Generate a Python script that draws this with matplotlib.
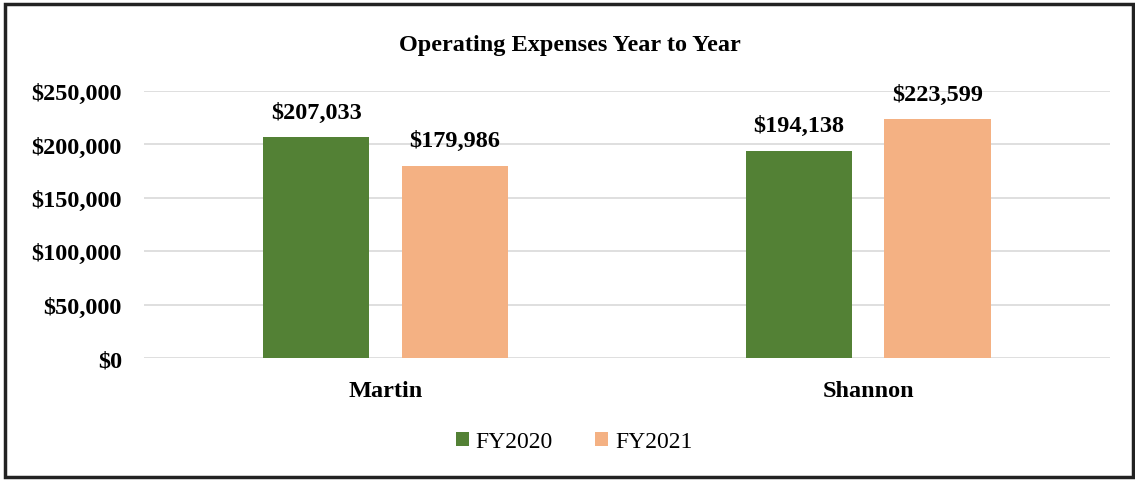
import numpy as np
import matplotlib.pyplot as plt
from matplotlib.patches import Rectangle
from matplotlib.ticker import FuncFormatter

plt.rcParams['font.family'] = ['Liberation Serif', 'DejaVu Serif']

# chart data
people = ['Martin', 'Shannon']
fy2020 = [207033, 194138]
fy2021 = [179986, 223599]
series_names = ['FY2020', 'FY2021']
colors = ['#538135', '#F4B183']

fig = plt.figure(figsize=(11.35, 4.81), dpi=100)
ax = fig.add_axes([0.127, 0.2536, 0.851, 0.555])

x = np.arange(len(people))
w = 0.22
b1 = ax.bar(x - 0.144, fy2020, w, color=colors[0], label=series_names[0], zorder=3)
b2 = ax.bar(x + 0.143, fy2021, w, color=colors[1], label=series_names[1], zorder=3)

#value labels above bars
for bars in (b1, b2):
    for r in bars:
        ax.text(r.get_x() + r.get_width()/2, r.get_height() + 13500,
                '${:,.0f}'.format(r.get_height()), ha='center', va='bottom',
                fontsize=17.5, fontweight='bold')

ax.set_xlim(-0.5, 1.5)
ax.set_ylim(0, 250000)
ax.set_yticks(np.arange(0, 250001, 50000))
ax.yaxis.set_major_formatter(FuncFormatter(lambda v, p: '${:,.0f}'.format(v)))
ax.set_xticks(x)
ax.set_xticklabels(people)
ax.tick_params(axis='y', length=0, labelsize=17.5, pad=16)
ax.tick_params(axis='x', length=0, labelsize=17.5, pad=16)
for lab in ax.get_xticklabels() + ax.get_yticklabels():
    lab.set_fontweight('bold')
ax.grid(axis='y', color='#d9d9d9', linewidth=1.2, zorder=0)
for s in ax.spines.values():
    s.set_visible(False)

fig.text(0.502, 0.905, 'Operating Expenses Year to Year', ha='center', va='center',
         fontsize=17.5, fontweight='bold')

fig.legend(loc='center', bbox_to_anchor=(0.506, 0.08), ncol=2, frameon=False,
           fontsize=17, handlelength=0.55, handleheight=0.55, handletextpad=0.3,
           columnspacing=1.8)

# outer border
fig.patches.append(Rectangle((0.004, 0.006), 0.994, 0.984, transform=fig.transFigure,
                             fill=False, edgecolor='#222222', linewidth=2.5))

fig.savefig('out.png', dpi=100)
